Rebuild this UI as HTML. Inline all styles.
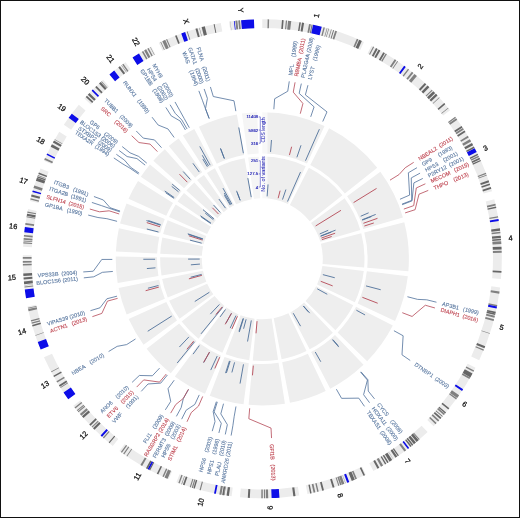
<!DOCTYPE html>
<html><head><meta charset="utf-8"><style>
html,body{margin:0;padding:0;background:#fff;}
svg{display:block;}
text{font-family:"Liberation Sans",sans-serif;}
.cl{font-size:7.4px;fill:#111;stroke:#111;stroke-width:0.25px;dominant-baseline:central;}
.gl text{font-size:5.5px;dominant-baseline:central;white-space:pre;stroke-width:0.12px;}
.at{font-size:4.4px;text-anchor:end;dominant-baseline:central;stroke-width:0.18px;}
.att{font-size:5px;text-anchor:middle;dominant-baseline:central;stroke-width:0.05px;}
</style></head><body>
<svg width="520" height="518" viewBox="0 0 520 518">
<defs><filter id="sf" x="0" y="0" width="520" height="518" filterUnits="userSpaceOnUse"><feGaussianBlur stdDeviation="0.3"/></filter></defs>
<rect x="0" y="0" width="520" height="518" fill="#fff"/>
<g filter="url(#sf)">
<path d="M262.3 112.2A146.6 146.6 0 0 1 324.54 126.07L307 163.46A105.3 105.3 0 0 0 262.3 153.5Z" fill="#eeeeee"/>
<path d="M262.3 156.6A102.2 102.2 0 0 1 305.69 166.27L287.98 204.02A60.5 60.5 0 0 0 262.3 198.3Z" fill="#eeeeee"/>
<path d="M329.13 128.32A146.6 146.6 0 0 1 377.24 167.8L344.86 193.44A105.3 105.3 0 0 0 310.3 165.08Z" fill="#eeeeee"/>
<path d="M308.89 167.84A102.2 102.2 0 0 1 342.43 195.36L309.73 221.25A60.5 60.5 0 0 0 289.88 204.95Z" fill="#eeeeee"/>
<path d="M380.35 171.87A146.6 146.6 0 0 1 402.93 217.38L363.31 229.05A105.3 105.3 0 0 0 347.09 196.36Z" fill="#eeeeee"/>
<path d="M344.59 198.2A102.2 102.2 0 0 1 360.34 229.93L320.34 241.71A60.5 60.5 0 0 0 311.02 222.93Z" fill="#eeeeee"/>
<path d="M404.29 222.32A146.6 146.6 0 0 1 408.37 271.21L367.22 267.71A105.3 105.3 0 0 0 364.29 232.59Z" fill="#eeeeee"/>
<path d="M361.28 233.37A102.2 102.2 0 0 1 364.13 267.45L322.58 263.92A60.5 60.5 0 0 0 320.9 243.74Z" fill="#eeeeee"/>
<path d="M407.85 276.3A146.6 146.6 0 0 1 395.07 320.96L357.66 303.45A105.3 105.3 0 0 0 366.85 271.37Z" fill="#eeeeee"/>
<path d="M363.77 271A102.2 102.2 0 0 1 354.86 302.14L317.09 284.45A60.5 60.5 0 0 0 322.37 266.02Z" fill="#eeeeee"/>
<path d="M392.82 325.56A146.6 146.6 0 0 1 367.16 361.25L337.62 332.39A105.3 105.3 0 0 0 356.05 306.75Z" fill="#eeeeee"/>
<path d="M353.29 305.34A102.2 102.2 0 0 1 335.4 330.22L305.57 301.08A60.5 60.5 0 0 0 316.16 286.35Z" fill="#eeeeee"/>
<path d="M363.52 364.85A146.6 146.6 0 0 1 330.28 388.69L311.13 352.09A105.3 105.3 0 0 0 335 334.97Z" fill="#eeeeee"/>
<path d="M332.86 332.73A102.2 102.2 0 0 1 309.69 349.35L290.35 312.4A60.5 60.5 0 0 0 304.07 302.57Z" fill="#eeeeee"/>
<path d="M325.7 390.98A146.6 146.6 0 0 1 289.96 402.77L282.17 362.21A105.3 105.3 0 0 0 307.84 353.74Z" fill="#eeeeee"/>
<path d="M306.5 350.95A102.2 102.2 0 0 1 281.58 359.16L273.71 318.21A60.5 60.5 0 0 0 288.47 313.35Z" fill="#eeeeee"/>
<path d="M284.92 403.64A146.6 146.6 0 0 1 248.61 404.76L252.47 363.64A105.3 105.3 0 0 0 278.55 362.84Z" fill="#eeeeee"/>
<path d="M278.07 359.78A102.2 102.2 0 0 1 252.76 360.55L256.65 319.04A60.5 60.5 0 0 0 271.63 318.58Z" fill="#eeeeee"/>
<path d="M243.53 404.19A146.6 146.6 0 0 1 209.72 395.65L224.53 357.09A105.3 105.3 0 0 0 248.82 363.23Z" fill="#eeeeee"/>
<path d="M249.21 360.16A102.2 102.2 0 0 1 225.65 354.2L240.6 315.27A60.5 60.5 0 0 0 254.55 318.8Z" fill="#eeeeee"/>
<path d="M204.98 393.73A146.6 146.6 0 0 1 174.84 376.46L199.48 343.31A105.3 105.3 0 0 0 221.13 355.72Z" fill="#eeeeee"/>
<path d="M222.34 352.86A102.2 102.2 0 0 1 201.33 340.82L226.21 307.36A60.5 60.5 0 0 0 238.64 314.48Z" fill="#eeeeee"/>
<path d="M170.79 373.33A146.6 146.6 0 0 1 146.6 348.82L179.19 323.46A105.3 105.3 0 0 0 196.57 341.07Z" fill="#eeeeee"/>
<path d="M198.51 338.64A102.2 102.2 0 0 1 181.64 321.56L214.55 295.95A60.5 60.5 0 0 0 224.54 306.07Z" fill="#eeeeee"/>
<path d="M143.53 344.73A146.6 146.6 0 0 1 128.67 319.08L166.31 302.1A105.3 105.3 0 0 0 176.99 320.52Z" fill="#eeeeee"/>
<path d="M179.5 318.71A102.2 102.2 0 0 1 169.14 300.82L207.15 283.68A60.5 60.5 0 0 0 213.28 294.26Z" fill="#eeeeee"/>
<path d="M126.64 314.38A146.6 146.6 0 0 1 118.62 287.92L159.1 279.72A105.3 105.3 0 0 0 164.86 298.72Z" fill="#eeeeee"/>
<path d="M167.73 297.54A102.2 102.2 0 0 1 162.14 279.1L203.01 270.82A60.5 60.5 0 0 0 206.32 281.74Z" fill="#eeeeee"/>
<path d="M117.69 282.89A146.6 146.6 0 0 1 115.72 256.56L157.01 257.19A105.3 105.3 0 0 0 158.43 276.1Z" fill="#eeeeee"/>
<path d="M161.49 275.6A102.2 102.2 0 0 1 160.11 257.24L201.81 257.88A60.5 60.5 0 0 0 202.62 268.74Z" fill="#eeeeee"/>
<path d="M115.88 251.45A146.6 146.6 0 0 1 118.89 228.37L159.29 236.94A105.3 105.3 0 0 0 157.13 253.52Z" fill="#eeeeee"/>
<path d="M160.23 253.67A102.2 102.2 0 0 1 162.33 237.58L203.12 246.24A60.5 60.5 0 0 0 201.88 255.77Z" fill="#eeeeee"/>
<path d="M120.04 223.38A146.6 146.6 0 0 1 126.53 203.49L164.78 219.07A105.3 105.3 0 0 0 160.12 233.36Z" fill="#eeeeee"/>
<path d="M163.13 234.11A102.2 102.2 0 0 1 167.65 220.24L206.27 235.97A60.5 60.5 0 0 0 203.59 244.18Z" fill="#eeeeee"/>
<path d="M128.55 198.79A146.6 146.6 0 0 1 138.02 181.04L173.03 202.95A105.3 105.3 0 0 0 166.23 215.69Z" fill="#eeeeee"/>
<path d="M169.06 216.96A102.2 102.2 0 0 1 175.66 204.59L211.01 226.71A60.5 60.5 0 0 0 207.1 234.03Z" fill="#eeeeee"/>
<path d="M140.81 176.75A146.6 146.6 0 0 1 149.99 164.58L181.63 191.12A105.3 105.3 0 0 0 175.04 199.87Z" fill="#eeeeee"/>
<path d="M177.61 201.6A102.2 102.2 0 0 1 184 193.12L215.95 219.92A60.5 60.5 0 0 0 212.16 224.94Z" fill="#eeeeee"/>
<path d="M153.34 160.72A146.6 146.6 0 0 1 164.86 149.27L192.31 180.12A105.3 105.3 0 0 0 184.04 188.35Z" fill="#eeeeee"/>
<path d="M186.34 190.42A102.2 102.2 0 0 1 194.37 182.44L222.09 213.6A60.5 60.5 0 0 0 217.34 218.32Z" fill="#eeeeee"/>
<path d="M168.75 145.93A146.6 146.6 0 0 1 178.63 138.43L202.2 172.34A105.3 105.3 0 0 0 195.1 177.73Z" fill="#eeeeee"/>
<path d="M197.08 180.12A102.2 102.2 0 0 1 203.97 174.88L227.77 209.12A60.5 60.5 0 0 0 223.69 212.22Z" fill="#eeeeee"/>
<path d="M182.88 135.58A146.6 146.6 0 0 1 194.31 128.92L213.46 165.51A105.3 105.3 0 0 0 205.25 170.29Z" fill="#eeeeee"/>
<path d="M206.93 172.9A102.2 102.2 0 0 1 214.9 168.26L234.24 205.2A60.5 60.5 0 0 0 229.52 207.95Z" fill="#eeeeee"/>
<path d="M198.88 126.63A146.6 146.6 0 0 1 236.88 114.42L244.04 155.09A105.3 105.3 0 0 0 216.75 163.86Z" fill="#eeeeee"/>
<path d="M218.09 166.66A102.2 102.2 0 0 1 244.58 158.15L251.81 199.22A60.5 60.5 0 0 0 236.13 204.25Z" fill="#eeeeee"/>
<path d="M241.94 113.62A146.6 146.6 0 0 1 257.18 112.29L258.63 153.56A105.3 105.3 0 0 0 247.67 154.52Z" fill="#f5f5f5"/>
<path d="M248.1 157.59A102.2 102.2 0 0 1 258.73 156.66L260.19 198.34A60.5 60.5 0 0 0 253.9 198.89Z" fill="#f5f5f5"/>
<rect x="261.2" y="111" width="6.3" height="90" fill="#fff" fill-opacity="0.6"/>
<path d="M262.3 19.3A239.5 239.5 0 0 1 363.97 41.95L360.24 49.92A230.7 230.7 0 0 0 262.3 28.1Z" fill="#ececec"/>
<path d="M371.48 45.63A239.5 239.5 0 0 1 450.08 110.14L443.18 115.6A230.7 230.7 0 0 0 367.47 53.47Z" fill="#ececec"/>
<path d="M455.15 116.78A239.5 239.5 0 0 1 492.04 191.14L483.6 193.62A230.7 230.7 0 0 0 448.07 122Z" fill="#ececec"/>
<path d="M494.27 199.2A239.5 239.5 0 0 1 500.94 279.07L492.17 278.33A230.7 230.7 0 0 0 485.74 201.39Z" fill="#ececec"/>
<path d="M500.09 287.39A239.5 239.5 0 0 1 479.2 360.35L471.23 356.62A230.7 230.7 0 0 0 491.35 286.34Z" fill="#ececec"/>
<path d="M475.53 367.86A239.5 239.5 0 0 1 433.61 426.18L427.31 420.03A230.7 230.7 0 0 0 467.69 363.85Z" fill="#ececec"/>
<path d="M427.66 432.05A239.5 239.5 0 0 1 373.36 471L369.28 463.2A230.7 230.7 0 0 0 421.58 425.69Z" fill="#ececec"/>
<path d="M365.88 474.74A239.5 239.5 0 0 1 307.48 494L305.82 485.36A230.7 230.7 0 0 0 362.08 466.81Z" fill="#ececec"/>
<path d="M299.25 495.43A239.5 239.5 0 0 1 239.94 497.25L240.76 488.49A230.7 230.7 0 0 0 297.89 486.74Z" fill="#ececec"/>
<path d="M231.63 496.33A239.5 239.5 0 0 1 176.4 482.37L179.56 474.15A230.7 230.7 0 0 0 232.76 487.6Z" fill="#ececec"/>
<path d="M168.65 479.23A239.5 239.5 0 0 1 119.42 451.01L124.67 443.95A230.7 230.7 0 0 0 172.09 471.13Z" fill="#ececec"/>
<path d="M112.8 445.91A239.5 239.5 0 0 1 73.28 405.87L80.22 400.47A230.7 230.7 0 0 0 118.29 439.04Z" fill="#ececec"/>
<path d="M68.26 399.19A239.5 239.5 0 0 1 43.98 357.27L52 353.66A230.7 230.7 0 0 0 75.39 394.03Z" fill="#ececec"/>
<path d="M40.68 349.59A239.5 239.5 0 0 1 27.57 306.38L36.2 304.63A230.7 230.7 0 0 0 48.82 346.26Z" fill="#ececec"/>
<path d="M26.06 298.16A239.5 239.5 0 0 1 22.83 255.14L31.63 255.28A230.7 230.7 0 0 0 34.74 296.71Z" fill="#ececec"/>
<path d="M23.1 246.79A239.5 239.5 0 0 1 28.02 209.08L36.63 210.91A230.7 230.7 0 0 0 31.89 247.23Z" fill="#ececec"/>
<path d="M29.9 200.93A239.5 239.5 0 0 1 40.5 168.44L48.65 171.76A230.7 230.7 0 0 0 38.43 203.06Z" fill="#ececec"/>
<path d="M43.79 160.76A239.5 239.5 0 0 1 59.27 131.76L66.73 136.43A230.7 230.7 0 0 0 51.82 164.36Z" fill="#ececec"/>
<path d="M63.82 124.76A239.5 239.5 0 0 1 78.81 104.87L85.56 110.53A230.7 230.7 0 0 0 71.12 129.68Z" fill="#ececec"/>
<path d="M84.3 98.56A239.5 239.5 0 0 1 103.12 79.85L108.97 86.43A230.7 230.7 0 0 0 90.84 104.45Z" fill="#ececec"/>
<path d="M109.46 74.41A239.5 239.5 0 0 1 125.6 62.14L130.62 69.37A230.7 230.7 0 0 0 115.08 81.18Z" fill="#ececec"/>
<path d="M132.55 57.49A239.5 239.5 0 0 1 151.22 46.62L155.3 54.41A230.7 230.7 0 0 0 137.31 64.89Z" fill="#ececec"/>
<path d="M158.69 42.87A239.5 239.5 0 0 1 220.78 22.93L222.3 31.59A230.7 230.7 0 0 0 162.5 50.8Z" fill="#ececec"/>
<path d="M229.03 21.62A239.5 239.5 0 0 1 253.94 19.45L254.25 28.24A230.7 230.7 0 0 0 230.26 30.34Z" fill="#ececec"/>
<path d="M267.65 19.36A239.5 239.5 0 0 1 269.12 19.4L268.87 28.19A230.7 230.7 0 0 0 267.45 28.16Z" fill="#808080"/>
<path d="M281.99 20.11A239.5 239.5 0 0 1 283.63 20.25L282.85 29.02A230.7 230.7 0 0 0 281.27 28.88Z" fill="#666666"/>
<path d="M285.9 20.47A239.5 239.5 0 0 1 287.11 20.59L286.2 29.34A230.7 230.7 0 0 0 285.03 29.22Z" fill="#808080"/>
<path d="M288.08 20.69A239.5 239.5 0 0 1 291.26 21.06L290.19 29.79A230.7 230.7 0 0 0 287.13 29.44Z" fill="#808080"/>
<path d="M299.39 22.19A239.5 239.5 0 0 1 300.89 22.43L299.47 31.11A230.7 230.7 0 0 0 298.03 30.88Z" fill="#666666"/>
<path d="M302.01 22.62A239.5 239.5 0 0 1 304.09 22.97L302.55 31.64A230.7 230.7 0 0 0 300.55 31.29Z" fill="#666666"/>
<path d="M309.1 23.92A239.5 239.5 0 0 1 310.87 24.28L309.09 32.89A230.7 230.7 0 0 0 307.38 32.55Z" fill="#808080"/>
<path d="M311.57 24.42A239.5 239.5 0 0 1 312.73 24.67L310.87 33.27A230.7 230.7 0 0 0 309.76 33.04Z" fill="#808080"/>
<path d="M313.1 24.75A239.5 239.5 0 0 1 321.75 26.8L319.56 35.32A230.7 230.7 0 0 0 311.23 33.35Z" fill="#0808e8"/>
<path d="M323.54 27.26A239.5 239.5 0 0 1 324.88 27.62L322.59 36.12A230.7 230.7 0 0 0 321.29 35.77Z" fill="#808080"/>
<path d="M326.79 28.15A239.5 239.5 0 0 1 327.4 28.32L325.01 36.79A230.7 230.7 0 0 0 324.42 36.62Z" fill="#808080"/>
<path d="M328.46 28.62A239.5 239.5 0 0 1 329.02 28.78L326.57 37.23A230.7 230.7 0 0 0 326.03 37.08Z" fill="#808080"/>
<path d="M331.04 29.38A239.5 239.5 0 0 1 331.73 29.58L329.18 38.01A230.7 230.7 0 0 0 328.52 37.81Z" fill="#808080"/>
<path d="M333.22 30.04A239.5 239.5 0 0 1 334.02 30.29L331.39 38.69A230.7 230.7 0 0 0 330.61 38.45Z" fill="#666666"/>
<path d="M335.27 30.69A239.5 239.5 0 0 1 336.99 31.24L334.25 39.61A230.7 230.7 0 0 0 332.59 39.07Z" fill="#808080"/>
<path d="M356.85 38.75A239.5 239.5 0 0 1 358.39 39.42L354.86 47.48A230.7 230.7 0 0 0 353.37 46.84Z" fill="#808080"/>
<path d="M359.12 39.74A239.5 239.5 0 0 1 361.85 40.97L358.19 48.97A230.7 230.7 0 0 0 355.57 47.79Z" fill="#666666"/>
<path d="M373.13 46.49A239.5 239.5 0 0 1 374.13 47.01L370.03 54.8A230.7 230.7 0 0 0 369.06 54.29Z" fill="#808080"/>
<path d="M376.03 48.03A239.5 239.5 0 0 1 377.69 48.93L373.45 56.64A230.7 230.7 0 0 0 371.85 55.77Z" fill="#666666"/>
<path d="M378.62 49.44A239.5 239.5 0 0 1 380.38 50.43L376.04 58.09A230.7 230.7 0 0 0 374.34 57.13Z" fill="#666666"/>
<path d="M383.34 52.14A239.5 239.5 0 0 1 384.97 53.1L380.46 60.66A230.7 230.7 0 0 0 378.89 59.73Z" fill="#666666"/>
<path d="M385.69 53.53A239.5 239.5 0 0 1 386.85 54.23L382.27 61.75A230.7 230.7 0 0 0 381.16 61.07Z" fill="#808080"/>
<path d="M394.77 59.27A239.5 239.5 0 0 1 396.35 60.33L391.42 67.62A230.7 230.7 0 0 0 389.9 66.6Z" fill="#808080"/>
<path d="M397.36 61.01A239.5 239.5 0 0 1 398.05 61.49L393.06 68.74A230.7 230.7 0 0 0 392.4 68.28Z" fill="#808080"/>
<path d="M404.16 65.84A239.5 239.5 0 0 1 405.69 66.97L400.42 74.01A230.7 230.7 0 0 0 398.95 72.93Z" fill="#0808e8"/>
<path d="M408 68.72A239.5 239.5 0 0 1 409.11 69.57L403.71 76.52A230.7 230.7 0 0 0 402.65 75.7Z" fill="#808080"/>
<path d="M411.88 71.76A239.5 239.5 0 0 1 413.33 72.92L407.78 79.75A230.7 230.7 0 0 0 406.39 78.63Z" fill="#808080"/>
<path d="M414.5 73.88A239.5 239.5 0 0 1 416.93 75.91L411.25 82.63A230.7 230.7 0 0 0 408.91 80.68Z" fill="#808080"/>
<path d="M424.82 82.88A239.5 239.5 0 0 1 426.33 84.29L420.3 90.7A230.7 230.7 0 0 0 418.85 89.34Z" fill="#666666"/>
<path d="M427.52 85.42A239.5 239.5 0 0 1 429.34 87.17L423.21 93.48A230.7 230.7 0 0 0 421.45 91.79Z" fill="#666666"/>
<path d="M431.83 89.63A239.5 239.5 0 0 1 432.6 90.4L426.35 96.59A230.7 230.7 0 0 0 425.6 95.84Z" fill="#808080"/>
<path d="M433.31 91.13A239.5 239.5 0 0 1 435.19 93.06L428.84 99.15A230.7 230.7 0 0 0 427.03 97.29Z" fill="#666666"/>
<path d="M435.92 93.82A239.5 239.5 0 0 1 437.5 95.51L431.07 101.51A230.7 230.7 0 0 0 429.54 99.88Z" fill="#666666"/>
<path d="M439.19 97.34A239.5 239.5 0 0 1 439.64 97.84L433.13 103.75A230.7 230.7 0 0 0 432.69 103.27Z" fill="#808080"/>
<path d="M444.27 103.08A239.5 239.5 0 0 1 445.28 104.27L438.55 109.95A230.7 230.7 0 0 0 437.58 108.8Z" fill="#666666"/>
<path d="M448.07 107.64A239.5 239.5 0 0 1 448.52 108.2L441.68 113.73A230.7 230.7 0 0 0 441.25 113.2Z" fill="#808080"/>
<path d="M455.15 116.78A239.5 239.5 0 0 1 455.85 117.74L448.74 122.92A230.7 230.7 0 0 0 448.07 122Z" fill="#808080"/>
<path d="M456.15 118.14A239.5 239.5 0 0 1 457.3 119.75L450.14 124.86A230.7 230.7 0 0 0 449.02 123.31Z" fill="#808080"/>
<path d="M461.54 125.89A239.5 239.5 0 0 1 462.58 127.47L455.22 132.3A230.7 230.7 0 0 0 454.22 130.77Z" fill="#666666"/>
<path d="M462.86 127.89A239.5 239.5 0 0 1 463.87 129.45L456.46 134.2A230.7 230.7 0 0 0 455.49 132.7Z" fill="#808080"/>
<path d="M464.52 130.48A239.5 239.5 0 0 1 465.49 132.01L458.02 136.67A230.7 230.7 0 0 0 457.09 135.19Z" fill="#666666"/>
<path d="M465.58 132.16A239.5 239.5 0 0 1 465.6 132.19L458.13 136.84A230.7 230.7 0 0 0 458.11 136.81Z" fill="#808080"/>
<path d="M467.84 135.86A239.5 239.5 0 0 1 468.74 137.38L461.16 141.84A230.7 230.7 0 0 0 460.29 140.38Z" fill="#808080"/>
<path d="M469.82 139.24A239.5 239.5 0 0 1 471.09 141.47L463.42 145.78A230.7 230.7 0 0 0 462.2 143.63Z" fill="#808080"/>
<path d="M471.99 143.09A239.5 239.5 0 0 1 473.12 145.16L465.38 149.34A230.7 230.7 0 0 0 464.29 147.34Z" fill="#666666"/>
<path d="M473.86 146.54A239.5 239.5 0 0 1 474.59 147.92L466.79 151.99A230.7 230.7 0 0 0 466.09 150.66Z" fill="#666666"/>
<path d="M474.72 148.18A239.5 239.5 0 0 1 476.71 152.08L468.83 156A230.7 230.7 0 0 0 466.92 152.24Z" fill="#0808e8"/>
<path d="M477.55 153.78A239.5 239.5 0 0 1 478.17 155.07L470.24 158.88A230.7 230.7 0 0 0 469.64 157.64Z" fill="#666666"/>
<path d="M478.48 155.72A239.5 239.5 0 0 1 479.09 157.01L471.13 160.75A230.7 230.7 0 0 0 470.54 159.51Z" fill="#808080"/>
<path d="M479.49 157.85A239.5 239.5 0 0 1 480.16 159.31L472.15 162.96A230.7 230.7 0 0 0 471.51 161.56Z" fill="#666666"/>
<path d="M480.45 159.96A239.5 239.5 0 0 1 480.95 161.07L472.92 164.66A230.7 230.7 0 0 0 472.44 163.59Z" fill="#666666"/>
<path d="M485.83 172.82A239.5 239.5 0 0 1 486.27 173.96L478.04 177.08A230.7 230.7 0 0 0 477.62 175.98Z" fill="#808080"/>
<path d="M486.57 174.75A239.5 239.5 0 0 1 486.86 175.54L478.61 178.6A230.7 230.7 0 0 0 478.33 177.84Z" fill="#808080"/>
<path d="M488.56 180.26A239.5 239.5 0 0 1 489.21 182.17L480.87 184.99A230.7 230.7 0 0 0 480.24 183.14Z" fill="#666666"/>
<path d="M489.65 183.49A239.5 239.5 0 0 1 490.14 184.97L481.77 187.68A230.7 230.7 0 0 0 481.3 186.26Z" fill="#666666"/>
<path d="M490.8 187.06A239.5 239.5 0 0 1 491.35 188.83L482.93 191.4A230.7 230.7 0 0 0 482.41 189.69Z" fill="#666666"/>
<path d="M495.4 203.82A239.5 239.5 0 0 1 495.78 205.42L487.2 207.38A230.7 230.7 0 0 0 486.84 205.84Z" fill="#808080"/>
<path d="M496.02 206.49A239.5 239.5 0 0 1 496.33 207.93L487.74 209.8A230.7 230.7 0 0 0 487.43 208.41Z" fill="#666666"/>
<path d="M497.97 216.15A239.5 239.5 0 0 1 498.22 217.56L489.55 219.08A230.7 230.7 0 0 0 489.31 217.72Z" fill="#808080"/>
<path d="M498.48 219.06A239.5 239.5 0 0 1 498.79 220.93L490.1 222.32A230.7 230.7 0 0 0 489.8 220.52Z" fill="#0808e8"/>
<path d="M499.86 228.35A239.5 239.5 0 0 1 500.15 230.77L491.41 231.8A230.7 230.7 0 0 0 491.13 229.47Z" fill="#666666"/>
<path d="M500.28 231.86A239.5 239.5 0 0 1 500.44 233.33L491.69 234.26A230.7 230.7 0 0 0 491.54 232.85Z" fill="#808080"/>
<path d="M500.68 235.67A239.5 239.5 0 0 1 500.9 238.07L492.13 238.83A230.7 230.7 0 0 0 491.92 236.52Z" fill="#666666"/>
<path d="M500.95 238.65A239.5 239.5 0 0 1 501.08 240.21L492.3 240.89A230.7 230.7 0 0 0 492.18 239.39Z" fill="#666666"/>
<path d="M501.15 241.17A239.5 239.5 0 0 1 501.34 243.95L492.56 244.49A230.7 230.7 0 0 0 492.37 241.82Z" fill="#808080"/>
<path d="M501.49 246.64A239.5 239.5 0 0 1 501.62 249.46L492.82 249.8A230.7 230.7 0 0 0 492.7 247.09Z" fill="#666666"/>
<path d="M501.66 250.72A239.5 239.5 0 0 1 501.73 252.83L492.93 253.05A230.7 230.7 0 0 0 492.87 251.02Z" fill="#808080"/>
<path d="M501.49 270.98A239.5 239.5 0 0 1 501.39 272.83L492.6 272.31A230.7 230.7 0 0 0 492.7 270.53Z" fill="#666666"/>
<path d="M499.56 291.48A239.5 239.5 0 0 1 499.25 293.65L490.54 292.37A230.7 230.7 0 0 0 490.84 290.28Z" fill="#808080"/>
<path d="M497.29 305.07A239.5 239.5 0 0 1 496.99 306.56L488.37 304.8A230.7 230.7 0 0 0 488.65 303.37Z" fill="#808080"/>
<path d="M496.99 306.56A239.5 239.5 0 0 1 496.6 308.45L487.99 306.63A230.7 230.7 0 0 0 488.37 304.8Z" fill="#0808e8"/>
<path d="M495.86 311.83A239.5 239.5 0 0 1 495.48 313.47L486.91 311.46A230.7 230.7 0 0 0 487.27 309.88Z" fill="#666666"/>
<path d="M495.45 313.59A239.5 239.5 0 0 1 495.11 315.03L486.55 312.96A230.7 230.7 0 0 0 486.88 311.58Z" fill="#666666"/>
<path d="M494.94 315.72A239.5 239.5 0 0 1 494.44 317.73L485.91 315.56A230.7 230.7 0 0 0 486.39 313.63Z" fill="#808080"/>
<path d="M494.06 319.19A239.5 239.5 0 0 1 493.57 321.03L485.08 318.74A230.7 230.7 0 0 0 485.54 316.97Z" fill="#808080"/>
<path d="M489.96 333.18A239.5 239.5 0 0 1 489.75 333.82L481.39 331.06A230.7 230.7 0 0 0 481.59 330.45Z" fill="#808080"/>
<path d="M485.26 346.26A239.5 239.5 0 0 1 484.43 348.34L476.27 345.05A230.7 230.7 0 0 0 477.07 343.05Z" fill="#666666"/>
<path d="M483.97 349.47A239.5 239.5 0 0 1 483.49 350.64L475.37 347.26A230.7 230.7 0 0 0 475.83 346.14Z" fill="#808080"/>
<path d="M474.15 370.52A239.5 239.5 0 0 1 473.46 371.82L465.7 367.67A230.7 230.7 0 0 0 466.36 366.41Z" fill="#808080"/>
<path d="M472.53 373.52A239.5 239.5 0 0 1 470.38 377.39L462.73 373.03A230.7 230.7 0 0 0 464.81 369.31Z" fill="#666666"/>
<path d="M470.25 377.61A239.5 239.5 0 0 1 469.39 379.1L461.78 374.68A230.7 230.7 0 0 0 462.61 373.24Z" fill="#808080"/>
<path d="M463.15 389.26A239.5 239.5 0 0 1 462.09 390.88L454.75 386.03A230.7 230.7 0 0 0 455.77 384.47Z" fill="#0808e8"/>
<path d="M459.11 395.28A239.5 239.5 0 0 1 457.17 398.03L450.01 392.92A230.7 230.7 0 0 0 451.88 390.26Z" fill="#808080"/>
<path d="M456.93 398.37A239.5 239.5 0 0 1 456.16 399.43L449.04 394.27A230.7 230.7 0 0 0 449.78 393.25Z" fill="#808080"/>
<path d="M449.37 408.35A239.5 239.5 0 0 1 448.39 409.56L441.56 404.02A230.7 230.7 0 0 0 442.5 402.85Z" fill="#666666"/>
<path d="M446.04 412.42A239.5 239.5 0 0 1 445.17 413.46L438.45 407.77A230.7 230.7 0 0 0 439.29 406.78Z" fill="#666666"/>
<path d="M444.93 413.74A239.5 239.5 0 0 1 443.83 415.03L437.16 409.29A230.7 230.7 0 0 0 438.22 408.05Z" fill="#808080"/>
<path d="M442.78 416.24A239.5 239.5 0 0 1 442.23 416.87L435.62 411.06A230.7 230.7 0 0 0 436.15 410.45Z" fill="#666666"/>
<path d="M441.42 417.79A239.5 239.5 0 0 1 440.24 419.1L433.7 413.21A230.7 230.7 0 0 0 434.84 411.94Z" fill="#666666"/>
<path d="M439.28 420.17A239.5 239.5 0 0 1 438.11 421.44L431.65 415.46A230.7 230.7 0 0 0 432.78 414.24Z" fill="#808080"/>
<path d="M436.59 423.07A239.5 239.5 0 0 1 435.57 424.14L429.2 418.06A230.7 230.7 0 0 0 430.18 417.03Z" fill="#808080"/>
<path d="M419.73 439.29A239.5 239.5 0 0 1 418.93 439.98L413.18 433.33A230.7 230.7 0 0 0 413.94 432.66Z" fill="#808080"/>
<path d="M418.68 440.2A239.5 239.5 0 0 1 416.69 441.9L411.01 435.17A230.7 230.7 0 0 0 412.93 433.54Z" fill="#666666"/>
<path d="M415.98 442.49A239.5 239.5 0 0 1 414 444.13L408.42 437.32A230.7 230.7 0 0 0 410.33 435.74Z" fill="#666666"/>
<path d="M413.31 444.69A239.5 239.5 0 0 1 412.13 445.64L406.63 438.78A230.7 230.7 0 0 0 407.76 437.86Z" fill="#666666"/>
<path d="M411.64 446.04A239.5 239.5 0 0 1 410.48 446.95L405.04 440.04A230.7 230.7 0 0 0 406.15 439.16Z" fill="#666666"/>
<path d="M409.16 447.99A239.5 239.5 0 0 1 407.92 448.94L402.57 441.96A230.7 230.7 0 0 0 403.76 441.04Z" fill="#0808e8"/>
<path d="M406.14 450.29A239.5 239.5 0 0 1 404.38 451.6L399.16 444.52A230.7 230.7 0 0 0 400.86 443.26Z" fill="#808080"/>
<path d="M398.9 455.52A239.5 239.5 0 0 1 397.9 456.22L392.91 448.96A230.7 230.7 0 0 0 393.88 448.29Z" fill="#666666"/>
<path d="M397.31 456.62A239.5 239.5 0 0 1 395.49 457.85L390.6 450.53A230.7 230.7 0 0 0 392.35 449.35Z" fill="#666666"/>
<path d="M393.45 459.2A239.5 239.5 0 0 1 393.21 459.36L388.4 451.99A230.7 230.7 0 0 0 388.63 451.83Z" fill="#808080"/>
<path d="M392.18 460.02A239.5 239.5 0 0 1 389.62 461.65L384.94 454.2A230.7 230.7 0 0 0 387.41 452.63Z" fill="#666666"/>
<path d="M388.62 462.28A239.5 239.5 0 0 1 387.3 463.09L382.7 455.59A230.7 230.7 0 0 0 383.98 454.8Z" fill="#666666"/>
<path d="M386.32 463.69A239.5 239.5 0 0 1 385.13 464.4L380.62 456.85A230.7 230.7 0 0 0 381.77 456.16Z" fill="#666666"/>
<path d="M383.14 465.58A239.5 239.5 0 0 1 381.09 466.76L376.73 459.12A230.7 230.7 0 0 0 378.7 457.98Z" fill="#808080"/>
<path d="M379.3 467.78A239.5 239.5 0 0 1 377.53 468.76L373.3 461.04A230.7 230.7 0 0 0 375 460.1Z" fill="#666666"/>
<path d="M365.05 475.14A239.5 239.5 0 0 1 363.52 475.86L359.8 467.88A230.7 230.7 0 0 0 361.27 467.19Z" fill="#666666"/>
<path d="M356.95 478.8A239.5 239.5 0 0 1 355.36 479.48L351.94 471.37A230.7 230.7 0 0 0 353.47 470.72Z" fill="#808080"/>
<path d="M354.82 479.71A239.5 239.5 0 0 1 351.81 480.94L348.53 472.78A230.7 230.7 0 0 0 351.42 471.59Z" fill="#666666"/>
<path d="M349.23 481.97A239.5 239.5 0 0 1 347.26 482.72L344.14 474.5A230.7 230.7 0 0 0 346.04 473.77Z" fill="#0808e8"/>
<path d="M345.65 483.33A239.5 239.5 0 0 1 345.49 483.39L342.43 475.14A230.7 230.7 0 0 0 342.58 475.08Z" fill="#666666"/>
<path d="M344.34 483.81A239.5 239.5 0 0 1 341.92 484.68L339 476.38A230.7 230.7 0 0 0 341.33 475.54Z" fill="#808080"/>
<path d="M341.68 484.76A239.5 239.5 0 0 1 340.17 485.29L337.31 476.96A230.7 230.7 0 0 0 338.77 476.46Z" fill="#808080"/>
<path d="M339.37 485.56A239.5 239.5 0 0 1 338.38 485.9L335.58 477.55A230.7 230.7 0 0 0 336.54 477.23Z" fill="#808080"/>
<path d="M334.53 487.15A239.5 239.5 0 0 1 332.72 487.71L330.13 479.3A230.7 230.7 0 0 0 331.88 478.76Z" fill="#666666"/>
<path d="M323.97 490.22A239.5 239.5 0 0 1 322.22 490.68L320.02 482.16A230.7 230.7 0 0 0 321.71 481.72Z" fill="#666666"/>
<path d="M318.67 491.57A239.5 239.5 0 0 1 317.32 491.9L315.29 483.33A230.7 230.7 0 0 0 316.6 483.02Z" fill="#808080"/>
<path d="M315.34 492.35A239.5 239.5 0 0 1 313.62 492.74L311.73 484.14A230.7 230.7 0 0 0 313.4 483.77Z" fill="#808080"/>
<path d="M311.6 493.17A239.5 239.5 0 0 1 310.16 493.47L308.4 484.85A230.7 230.7 0 0 0 309.79 484.56Z" fill="#666666"/>
<path d="M295.5 495.99A239.5 239.5 0 0 1 293.33 496.28L292.19 487.56A230.7 230.7 0 0 0 294.28 487.27Z" fill="#666666"/>
<path d="M279.46 497.68A239.5 239.5 0 0 1 271.63 498.12L271.29 489.32A230.7 230.7 0 0 0 278.82 488.91Z" fill="#0808e8"/>
<path d="M268.22 498.23A239.5 239.5 0 0 1 266.03 498.27L265.89 489.47A230.7 230.7 0 0 0 268 489.43Z" fill="#808080"/>
<path d="M265.23 498.28A239.5 239.5 0 0 1 263.97 498.29L263.91 489.49A230.7 230.7 0 0 0 265.12 489.48Z" fill="#808080"/>
<path d="M262.79 498.3A239.5 239.5 0 0 1 261.31 498.3L261.35 489.5A230.7 230.7 0 0 0 262.77 489.5Z" fill="#808080"/>
<path d="M249.82 497.97A239.5 239.5 0 0 1 247.8 497.86L248.33 489.08A230.7 230.7 0 0 0 250.28 489.19Z" fill="#666666"/>
<path d="M228.87 495.96A239.5 239.5 0 0 1 226.54 495.62L227.85 486.91A230.7 230.7 0 0 0 230.1 487.24Z" fill="#666666"/>
<path d="M224.42 495.28A239.5 239.5 0 0 1 223.88 495.2L225.29 486.51A230.7 230.7 0 0 0 225.81 486.6Z" fill="#666666"/>
<path d="M223.83 495.19A239.5 239.5 0 0 1 222.21 494.92L223.69 486.25A230.7 230.7 0 0 0 225.25 486.51Z" fill="#666666"/>
<path d="M221.38 494.78A239.5 239.5 0 0 1 219.31 494.41L220.89 485.75A230.7 230.7 0 0 0 222.89 486.11Z" fill="#808080"/>
<path d="M215.83 493.75A239.5 239.5 0 0 1 214.06 493.39L215.83 484.77A230.7 230.7 0 0 0 217.54 485.12Z" fill="#0808e8"/>
<path d="M200.69 490.24A239.5 239.5 0 0 1 199.55 489.93L201.86 481.44A230.7 230.7 0 0 0 202.95 481.74Z" fill="#808080"/>
<path d="M194.77 488.58A239.5 239.5 0 0 1 193.39 488.17L195.93 479.75A230.7 230.7 0 0 0 197.25 480.14Z" fill="#666666"/>
<path d="M192.91 488.03A239.5 239.5 0 0 1 191.74 487.67L194.33 479.26A230.7 230.7 0 0 0 195.46 479.61Z" fill="#808080"/>
<path d="M190.82 487.38A239.5 239.5 0 0 1 189.77 487.05L192.44 478.67A230.7 230.7 0 0 0 193.44 478.98Z" fill="#808080"/>
<path d="M184.57 485.34A239.5 239.5 0 0 1 182.9 484.76L185.82 476.45A230.7 230.7 0 0 0 187.43 477.01Z" fill="#666666"/>
<path d="M181.87 484.39A239.5 239.5 0 0 1 181.31 484.19L184.29 475.91A230.7 230.7 0 0 0 184.82 476.1Z" fill="#808080"/>
<path d="M179.57 483.56A239.5 239.5 0 0 1 178.35 483.1L181.43 474.86A230.7 230.7 0 0 0 182.61 475.3Z" fill="#808080"/>
<path d="M167.57 478.77A239.5 239.5 0 0 1 164.52 477.43L168.11 469.4A230.7 230.7 0 0 0 171.05 470.69Z" fill="#808080"/>
<path d="M163.75 477.09A239.5 239.5 0 0 1 162.41 476.47L166.08 468.48A230.7 230.7 0 0 0 167.37 469.06Z" fill="#808080"/>
<path d="M158.22 474.5A239.5 239.5 0 0 1 156.78 473.8L160.65 465.9A230.7 230.7 0 0 0 162.04 466.58Z" fill="#666666"/>
<path d="M150.1 470.39A239.5 239.5 0 0 1 149.06 469.84L153.22 462.08A230.7 230.7 0 0 0 154.22 462.62Z" fill="#666666"/>
<path d="M149.06 469.84A239.5 239.5 0 0 1 147.54 469.01L151.76 461.29A230.7 230.7 0 0 0 153.22 462.08Z" fill="#0808e8"/>
<path d="M147.54 469.01A239.5 239.5 0 0 1 145.99 468.16L150.26 460.47A230.7 230.7 0 0 0 151.76 461.29Z" fill="#666666"/>
<path d="M142.14 465.98A239.5 239.5 0 0 1 140.4 464.95L144.88 457.38A230.7 230.7 0 0 0 146.56 458.36Z" fill="#808080"/>
<path d="M127.14 456.52A239.5 239.5 0 0 1 126.45 456.04L131.44 448.79A230.7 230.7 0 0 0 132.11 449.25Z" fill="#808080"/>
<path d="M124.13 454.43A239.5 239.5 0 0 1 123.21 453.77L128.32 446.61A230.7 230.7 0 0 0 129.21 447.24Z" fill="#808080"/>
<path d="M121.87 452.81A239.5 239.5 0 0 1 120.85 452.07L126.05 444.97A230.7 230.7 0 0 0 127.03 445.68Z" fill="#808080"/>
<path d="M109.5 443.23A239.5 239.5 0 0 1 108.63 442.5L114.27 435.75A230.7 230.7 0 0 0 115.12 436.45Z" fill="#666666"/>
<path d="M103.83 438.38A239.5 239.5 0 0 1 102.92 437.57L108.78 431A230.7 230.7 0 0 0 109.66 431.78Z" fill="#808080"/>
<path d="M102.1 436.84A239.5 239.5 0 0 1 100.58 435.45L106.52 428.96A230.7 230.7 0 0 0 107.99 430.3Z" fill="#0808e8"/>
<path d="M94.49 429.68A239.5 239.5 0 0 1 93 428.2L99.22 421.98A230.7 230.7 0 0 0 100.66 423.4Z" fill="#666666"/>
<path d="M92.4 427.6A239.5 239.5 0 0 1 91.63 426.82L97.9 420.65A230.7 230.7 0 0 0 98.64 421.4Z" fill="#808080"/>
<path d="M90.51 425.68A239.5 239.5 0 0 1 89.28 424.41L95.64 418.32A230.7 230.7 0 0 0 96.82 419.55Z" fill="#666666"/>
<path d="M83.42 418.06A239.5 239.5 0 0 1 81.92 416.35L88.55 410.57A230.7 230.7 0 0 0 90 412.21Z" fill="#666666"/>
<path d="M81.31 415.66A239.5 239.5 0 0 1 79.88 413.99L86.59 408.29A230.7 230.7 0 0 0 87.96 409.89Z" fill="#808080"/>
<path d="M78.45 412.29A239.5 239.5 0 0 1 77.77 411.48L84.55 405.87A230.7 230.7 0 0 0 85.2 406.65Z" fill="#808080"/>
<path d="M77.42 411.05A239.5 239.5 0 0 1 76.73 410.21L83.55 404.64A230.7 230.7 0 0 0 84.22 405.46Z" fill="#808080"/>
<path d="M75.35 408.5A239.5 239.5 0 0 1 74.46 407.38L81.36 401.92A230.7 230.7 0 0 0 82.22 403Z" fill="#808080"/>
<path d="M68.26 399.19A239.5 239.5 0 0 1 63.56 392.45L70.86 387.54A230.7 230.7 0 0 0 75.39 394.03Z" fill="#0808e8"/>
<path d="M60.62 387.98A239.5 239.5 0 0 1 60.21 387.34L67.64 382.61A230.7 230.7 0 0 0 68.03 383.23Z" fill="#808080"/>
<path d="M59.88 386.8A239.5 239.5 0 0 1 58.85 385.16L66.32 380.52A230.7 230.7 0 0 0 67.31 382.1Z" fill="#666666"/>
<path d="M57.26 382.57A239.5 239.5 0 0 1 56.48 381.27L64.05 376.77A230.7 230.7 0 0 0 64.8 378.03Z" fill="#808080"/>
<path d="M54.07 377.12A239.5 239.5 0 0 1 53.37 375.87L61.04 371.57A230.7 230.7 0 0 0 61.72 372.77Z" fill="#666666"/>
<path d="M51.4 372.29A239.5 239.5 0 0 1 51.04 371.62L58.8 367.48A230.7 230.7 0 0 0 59.15 368.12Z" fill="#808080"/>
<path d="M40.68 349.59A239.5 239.5 0 0 1 37.75 342.1L46 339.04A230.7 230.7 0 0 0 48.82 346.26Z" fill="#0808e8"/>
<path d="M35.47 335.67A239.5 239.5 0 0 1 35.29 335.15L43.64 332.34A230.7 230.7 0 0 0 43.8 332.84Z" fill="#808080"/>
<path d="M32.57 326.51A239.5 239.5 0 0 1 32.1 324.89L40.56 322.46A230.7 230.7 0 0 0 41.01 324.02Z" fill="#666666"/>
<path d="M31.79 323.8A239.5 239.5 0 0 1 31.44 322.54L39.92 320.2A230.7 230.7 0 0 0 40.26 321.41Z" fill="#808080"/>
<path d="M31.18 321.61A239.5 239.5 0 0 1 30.79 320.14L39.29 317.89A230.7 230.7 0 0 0 39.67 319.3Z" fill="#808080"/>
<path d="M28.59 311.14A239.5 239.5 0 0 1 28.14 309.08L36.74 307.23A230.7 230.7 0 0 0 37.18 309.21Z" fill="#808080"/>
<path d="M28.01 308.46A239.5 239.5 0 0 1 27.86 307.76L36.47 305.96A230.7 230.7 0 0 0 36.61 306.64Z" fill="#808080"/>
<path d="M26.06 298.16A239.5 239.5 0 0 1 24.78 289.53L33.51 288.4A230.7 230.7 0 0 0 34.74 296.71Z" fill="#0808e8"/>
<path d="M24.52 287.44A239.5 239.5 0 0 1 24.4 286.44L33.14 285.42A230.7 230.7 0 0 0 33.26 286.39Z" fill="#808080"/>
<path d="M24.29 285.52A239.5 239.5 0 0 1 24.25 285.14L33 284.17A230.7 230.7 0 0 0 33.04 284.54Z" fill="#808080"/>
<path d="M24.14 284.13A239.5 239.5 0 0 1 23.87 281.41L32.63 280.58A230.7 230.7 0 0 0 32.89 283.2Z" fill="#666666"/>
<path d="M23.69 279.44A239.5 239.5 0 0 1 23.53 277.46L32.3 276.78A230.7 230.7 0 0 0 32.46 278.68Z" fill="#666666"/>
<path d="M23.42 276.04A239.5 239.5 0 0 1 23.25 273.47L32.03 272.93A230.7 230.7 0 0 0 32.2 275.4Z" fill="#666666"/>
<path d="M22.89 265.48A239.5 239.5 0 0 1 22.86 264.04L31.66 263.85A230.7 230.7 0 0 0 31.69 265.23Z" fill="#808080"/>
<path d="M22.83 262.65A239.5 239.5 0 0 1 22.81 261.05L31.61 260.97A230.7 230.7 0 0 0 31.63 262.51Z" fill="#808080"/>
<path d="M22.8 258.82A239.5 239.5 0 0 1 22.81 257.05L31.61 257.12A230.7 230.7 0 0 0 31.6 258.82Z" fill="#808080"/>
<path d="M23.29 243.46A239.5 239.5 0 0 1 23.36 242.37L32.14 242.97A230.7 230.7 0 0 0 32.07 244.03Z" fill="#808080"/>
<path d="M23.43 241.49A239.5 239.5 0 0 1 23.5 240.56L32.27 241.23A230.7 230.7 0 0 0 32.2 242.12Z" fill="#808080"/>
<path d="M23.56 239.72A239.5 239.5 0 0 1 23.72 237.88L32.48 238.65A230.7 230.7 0 0 0 32.33 240.43Z" fill="#808080"/>
<path d="M23.83 236.62A239.5 239.5 0 0 1 23.99 234.98L32.74 235.86A230.7 230.7 0 0 0 32.59 237.43Z" fill="#808080"/>
<path d="M24.28 232.26A239.5 239.5 0 0 1 24.91 227.07L33.63 228.24A230.7 230.7 0 0 0 33.02 233.24Z" fill="#0808e8"/>
<path d="M25.23 224.74A239.5 239.5 0 0 1 25.49 223.03L34.19 224.34A230.7 230.7 0 0 0 33.95 225.99Z" fill="#808080"/>
<path d="M26.45 217.17A239.5 239.5 0 0 1 26.6 216.3L35.26 217.86A230.7 230.7 0 0 0 35.11 218.7Z" fill="#808080"/>
<path d="M26.69 215.8A239.5 239.5 0 0 1 27.09 213.69L35.73 215.34A230.7 230.7 0 0 0 35.35 217.38Z" fill="#666666"/>
<path d="M27.29 212.65A239.5 239.5 0 0 1 27.49 211.62L36.12 213.35A230.7 230.7 0 0 0 35.92 214.35Z" fill="#808080"/>
<path d="M30.24 199.59A239.5 239.5 0 0 1 30.57 198.28L39.09 200.5A230.7 230.7 0 0 0 38.76 201.76Z" fill="#808080"/>
<path d="M31.03 196.57A239.5 239.5 0 0 1 31.62 194.42L40.09 196.78A230.7 230.7 0 0 0 39.52 198.86Z" fill="#666666"/>
<path d="M32.33 191.91A239.5 239.5 0 0 1 32.76 190.45L41.19 192.96A230.7 230.7 0 0 0 40.78 194.36Z" fill="#0808e8"/>
<path d="M33.49 188.03A239.5 239.5 0 0 1 34.29 185.5L42.67 188.19A230.7 230.7 0 0 0 41.9 190.63Z" fill="#808080"/>
<path d="M35.9 180.66A239.5 239.5 0 0 1 36.94 177.72L45.22 180.7A230.7 230.7 0 0 0 44.22 183.54Z" fill="#666666"/>
<path d="M37.04 177.45A239.5 239.5 0 0 1 37.44 176.34L45.71 179.37A230.7 230.7 0 0 0 45.32 180.44Z" fill="#666666"/>
<path d="M37.66 175.75A239.5 239.5 0 0 1 37.9 175.11L46.14 178.19A230.7 230.7 0 0 0 45.92 178.8Z" fill="#808080"/>
<path d="M38.33 173.97A239.5 239.5 0 0 1 38.9 172.47L47.11 175.65A230.7 230.7 0 0 0 46.56 177.09Z" fill="#666666"/>
<path d="M44.29 159.64A239.5 239.5 0 0 1 45.03 158.04L53.01 161.74A230.7 230.7 0 0 0 52.3 163.29Z" fill="#808080"/>
<path d="M46.52 154.87A239.5 239.5 0 0 1 47.19 153.51L55.09 157.38A230.7 230.7 0 0 0 54.45 158.69Z" fill="#0808e8"/>
<path d="M50.67 146.68A239.5 239.5 0 0 1 51.92 144.34L59.65 148.55A230.7 230.7 0 0 0 58.44 150.8Z" fill="#666666"/>
<path d="M52.87 142.6A239.5 239.5 0 0 1 54.03 140.55L61.68 144.89A230.7 230.7 0 0 0 60.57 146.87Z" fill="#666666"/>
<path d="M54.53 139.67A239.5 239.5 0 0 1 54.82 139.16L62.45 143.55A230.7 230.7 0 0 0 62.16 144.05Z" fill="#808080"/>
<path d="M68.66 117.86A239.5 239.5 0 0 1 71.78 113.67L78.78 119A230.7 230.7 0 0 0 75.78 123.04Z" fill="#0808e8"/>
<path d="M85.74 96.97A239.5 239.5 0 0 1 86.91 95.7L93.36 101.7A230.7 230.7 0 0 0 92.23 102.92Z" fill="#666666"/>
<path d="M87.75 94.81A239.5 239.5 0 0 1 89.43 93.04L95.78 99.13A230.7 230.7 0 0 0 94.16 100.84Z" fill="#666666"/>
<path d="M91.69 90.71A239.5 239.5 0 0 1 92.82 89.58L99.05 95.79A230.7 230.7 0 0 0 97.96 96.89Z" fill="#0808e8"/>
<path d="M95.28 87.15A239.5 239.5 0 0 1 96.52 85.95L102.61 92.3A230.7 230.7 0 0 0 101.41 93.46Z" fill="#666666"/>
<path d="M99 83.61A239.5 239.5 0 0 1 100.61 82.12L106.55 88.61A230.7 230.7 0 0 0 105 90.04Z" fill="#666666"/>
<path d="M101.08 81.69A239.5 239.5 0 0 1 101.67 81.16L107.57 87.68A230.7 230.7 0 0 0 107 88.2Z" fill="#808080"/>
<path d="M109.46 74.41A239.5 239.5 0 0 1 114.15 70.62L119.59 77.54A230.7 230.7 0 0 0 115.08 81.18Z" fill="#0808e8"/>
<path d="M118.32 67.41A239.5 239.5 0 0 1 119.91 66.23L125.14 73.3A230.7 230.7 0 0 0 123.61 74.44Z" fill="#666666"/>
<path d="M121.2 65.28A239.5 239.5 0 0 1 121.57 65.01L126.74 72.13A230.7 230.7 0 0 0 126.38 72.39Z" fill="#808080"/>
<path d="M122.22 64.54A239.5 239.5 0 0 1 123.35 63.73L128.46 70.89A230.7 230.7 0 0 0 127.37 71.67Z" fill="#808080"/>
<path d="M132.55 57.49A239.5 239.5 0 0 1 138.95 53.51L143.48 61.05A230.7 230.7 0 0 0 137.31 64.89Z" fill="#0808e8"/>
<path d="M141.85 51.79A239.5 239.5 0 0 1 143.2 51.01L147.58 58.65A230.7 230.7 0 0 0 146.28 59.4Z" fill="#808080"/>
<path d="M144.15 50.47A239.5 239.5 0 0 1 146.14 49.36L150.4 57.05A230.7 230.7 0 0 0 148.49 58.13Z" fill="#808080"/>
<path d="M147.39 48.67A239.5 239.5 0 0 1 148.58 48.02L152.75 55.77A230.7 230.7 0 0 0 151.61 56.39Z" fill="#808080"/>
<path d="M150.14 47.19A239.5 239.5 0 0 1 150.51 46.99L154.62 54.77A230.7 230.7 0 0 0 154.26 54.96Z" fill="#808080"/>
<path d="M160.33 42.09A239.5 239.5 0 0 1 160.98 41.79L164.7 49.76A230.7 230.7 0 0 0 164.07 50.06Z" fill="#808080"/>
<path d="M162.31 41.17A239.5 239.5 0 0 1 165.23 39.85L168.8 47.9A230.7 230.7 0 0 0 165.99 49.17Z" fill="#808080"/>
<path d="M166.08 39.48A239.5 239.5 0 0 1 167.08 39.04L170.58 47.12A230.7 230.7 0 0 0 169.62 47.54Z" fill="#808080"/>
<path d="M175.07 35.75A239.5 239.5 0 0 1 176.64 35.14L179.79 43.36A230.7 230.7 0 0 0 178.27 43.95Z" fill="#666666"/>
<path d="M181.26 33.43A239.5 239.5 0 0 1 185.12 32.08L187.95 40.41A230.7 230.7 0 0 0 184.24 41.71Z" fill="#0808e8"/>
<path d="M186.72 31.54A239.5 239.5 0 0 1 187.56 31.26L190.3 39.62A230.7 230.7 0 0 0 189.49 39.89Z" fill="#808080"/>
<path d="M195.44 28.82A239.5 239.5 0 0 1 197.39 28.26L199.77 36.74A230.7 230.7 0 0 0 197.9 37.27Z" fill="#666666"/>
<path d="M199.13 27.78A239.5 239.5 0 0 1 199.58 27.66L201.88 36.15A230.7 230.7 0 0 0 201.45 36.27Z" fill="#808080"/>
<path d="M201.62 27.12A239.5 239.5 0 0 1 204.8 26.3L206.91 34.85A230.7 230.7 0 0 0 203.85 35.63Z" fill="#666666"/>
<path d="M213.63 24.3A239.5 239.5 0 0 1 214.58 24.1L216.33 32.73A230.7 230.7 0 0 0 215.42 32.91Z" fill="#666666"/>
<path d="M230.08 21.48A239.5 239.5 0 0 1 230.29 21.45L231.46 30.17A230.7 230.7 0 0 0 231.26 30.2Z" fill="#808080"/>
<path d="M233.88 20.99A239.5 239.5 0 0 1 234.63 20.9L235.65 29.64A230.7 230.7 0 0 0 234.92 29.73Z" fill="#0808e8"/>
<path d="M235.35 20.82A239.5 239.5 0 0 1 237.31 20.61L238.23 29.36A230.7 230.7 0 0 0 236.34 29.57Z" fill="#808080"/>
<path d="M238.28 20.51A239.5 239.5 0 0 1 240 20.34L240.82 29.1A230.7 230.7 0 0 0 239.16 29.26Z" fill="#808080"/>
<path d="M241.09 20.24A239.5 239.5 0 0 1 253.95 19.45L254.26 28.24A230.7 230.7 0 0 0 241.87 29.01Z" fill="#0808e8"/>
<text x="316.01" y="17.71" transform="rotate(-77.44 316.01 17.71)" class="cl" text-anchor="start">1</text>
<text x="419" y="67.87" transform="rotate(-50.62 419 67.87)" class="cl" text-anchor="start">2</text>
<text x="483.56" y="149.02" transform="rotate(-26.39 483.56 149.02)" class="cl" text-anchor="start">3</text>
<text x="508.44" y="238.23" transform="rotate(-4.78 508.44 238.23)" class="cl" text-anchor="start">4</text>
<text x="499.76" y="326.77" transform="rotate(15.97 499.76 326.77)" class="cl" text-anchor="start">5</text>
<text x="462.85" y="402.98" transform="rotate(35.71 462.85 402.98)" class="cl" text-anchor="start">6</text>
<text x="406.24" y="459.52" transform="rotate(54.35 406.24 459.52)" class="cl" text-anchor="start">7</text>
<text x="339.65" y="493.38" transform="rotate(71.75 339.65 493.38)" class="cl" text-anchor="start">8</text>
<text x="269.88" y="505.68" transform="rotate(88.24 269.88 505.68)" class="cl" text-anchor="start">9</text>
<text x="201.76" y="498.27" transform="rotate(-75.81 201.76 498.27)" class="cl" text-anchor="end">10</text>
<text x="139.47" y="473.09" transform="rotate(-60.18 139.47 473.09)" class="cl" text-anchor="end">11</text>
<text x="86.52" y="432.33" transform="rotate(-44.63 86.52 432.33)" class="cl" text-anchor="end">12</text>
<text x="48.57" y="382.6" transform="rotate(-30.08 48.57 382.6)" class="cl" text-anchor="end">13</text>
<text x="25.93" y="330.47" transform="rotate(-16.87 25.93 330.47)" class="cl" text-anchor="end">14</text>
<text x="15.99" y="277.28" transform="rotate(-4.29 15.99 277.28)" class="cl" text-anchor="end">15</text>
<text x="17.37" y="226.87" transform="rotate(7.43 17.37 226.87)" class="cl" text-anchor="end">16</text>
<text x="27.49" y="182.17" transform="rotate(18.07 27.49 182.17)" class="cl" text-anchor="end">17</text>
<text x="44.41" y="142.46" transform="rotate(28.1 44.41 142.46)" class="cl" text-anchor="end">18</text>
<text x="65.07" y="110.1" transform="rotate(37.01 65.07 110.1)" class="cl" text-anchor="end">19</text>
<text x="88.16" y="83.63" transform="rotate(45.17 88.16 83.63)" class="cl" text-anchor="end">20</text>
<text x="112.86" y="62.13" transform="rotate(52.77 112.86 62.13)" class="cl" text-anchor="end">21</text>
<text x="137.99" y="45.36" transform="rotate(59.78 137.99 45.36)" class="cl" text-anchor="end">22</text>
<text x="186.76" y="23.64" transform="rotate(72.19 186.76 23.64)" class="cl" text-anchor="end">X</text>
<text x="240.81" y="12.74" transform="rotate(85.01 240.81 12.74)" class="cl" text-anchor="end">Y</text>
<g stroke-width="0.9" stroke-linecap="butt"><line x1="270.55" y1="151.92" x2="271.47" y2="140.03" stroke="#4f709a"/><line x1="267.12" y1="196.39" x2="268.04" y2="184.42" stroke="#4f709a"/><line x1="289.44" y1="155.09" x2="291.63" y2="146.73" stroke="#b44856"/><line x1="278.15" y1="198.24" x2="280.12" y2="190.69" stroke="#b44856"/><line x1="296.89" y1="157.34" x2="301" y2="145.28" stroke="#4f709a"/><line x1="282.5" y1="199.55" x2="285.92" y2="189.52" stroke="#4f709a"/><line x1="305.5" y1="160.69" x2="319.38" y2="129.18" stroke="#4f709a"/><line x1="287.53" y1="201.51" x2="300.51" y2="172.04" stroke="#4f709a"/><line x1="353.58" y1="202.58" x2="376.56" y2="188.43" stroke="#b44856"/><line x1="315.6" y1="225.97" x2="340.97" y2="210.34" stroke="#b44856"/><line x1="360.69" y1="216.24" x2="368.65" y2="212.8" stroke="#4f709a"/><line x1="319.76" y1="233.95" x2="328.2" y2="230.3" stroke="#4f709a"/><line x1="362.13" y1="219.74" x2="375.68" y2="214.44" stroke="#4f709a"/><line x1="320.6" y1="235.99" x2="335.59" y2="230.13" stroke="#4f709a"/><line x1="362.28" y1="220.13" x2="371.46" y2="216.58" stroke="#4f709a"/><line x1="320.69" y1="236.22" x2="331.32" y2="232.11" stroke="#4f709a"/><line x1="363.44" y1="223.27" x2="377.48" y2="218.34" stroke="#b44856"/><line x1="321.36" y1="238.05" x2="335.14" y2="233.21" stroke="#b44856"/><line x1="364.36" y1="226" x2="373.8" y2="222.97" stroke="#b44856"/><line x1="321.9" y1="239.65" x2="331.7" y2="236.5" stroke="#b44856"/><line x1="366.02" y1="285.91" x2="380.71" y2="289.74" stroke="#4f709a"/><line x1="322.87" y1="274.63" x2="334.77" y2="277.74" stroke="#4f709a"/><line x1="362.34" y1="297.31" x2="377.7" y2="303.22" stroke="#b44856"/><line x1="320.72" y1="281.29" x2="332.67" y2="285.89" stroke="#b44856"/><line x1="356.37" y1="310.2" x2="365.06" y2="314.95" stroke="#4f709a"/><line x1="317.23" y1="288.82" x2="327.24" y2="294.28" stroke="#4f709a"/><line x1="332.81" y1="339.55" x2="338.18" y2="345.69" stroke="#4f709a"/><line x1="303.48" y1="305.95" x2="309.72" y2="313.11" stroke="#4f709a"/><line x1="332.52" y1="339.8" x2="338.83" y2="347.08" stroke="#4f709a"/><line x1="303.3" y1="306.1" x2="308.15" y2="311.69" stroke="#4f709a"/><line x1="315.26" y1="352" x2="320.79" y2="361.74" stroke="#4f709a"/><line x1="293.23" y1="313.23" x2="300.59" y2="326.18" stroke="#4f709a"/><line x1="253.3" y1="365.62" x2="252.48" y2="375.34" stroke="#b44856"/><line x1="257.04" y1="321.18" x2="256.02" y2="333.34" stroke="#b44856"/><line x1="243.48" y1="364.34" x2="240.05" y2="383.59" stroke="#4f709a"/><line x1="251.31" y1="320.43" x2="247.56" y2="341.5" stroke="#4f709a"/><line x1="234.58" y1="362.35" x2="231.88" y2="372.47" stroke="#4f709a"/><line x1="246.11" y1="319.27" x2="243.58" y2="328.74" stroke="#4f709a"/><line x1="230.15" y1="361.06" x2="226.43" y2="372.88" stroke="#4f709a"/><line x1="243.52" y1="318.52" x2="239.26" y2="332.06" stroke="#4f709a"/><line x1="229.49" y1="360.86" x2="225.54" y2="373.15" stroke="#4f709a"/><line x1="243.14" y1="318.4" x2="238.98" y2="331.34" stroke="#4f709a"/><line x1="219.71" y1="357.18" x2="214.83" y2="368.44" stroke="#b44856"/><line x1="237.43" y1="316.25" x2="231.94" y2="328.91" stroke="#b44856"/><line x1="217.23" y1="356.07" x2="210.74" y2="370.07" stroke="#4f709a"/><line x1="235.98" y1="315.6" x2="230.18" y2="328.12" stroke="#4f709a"/><line x1="209.57" y1="352.13" x2="203.59" y2="362.71" stroke="#4f709a"/><line x1="231.51" y1="313.3" x2="225.9" y2="323.23" stroke="#4f709a"/><line x1="209.48" y1="352.09" x2="203.7" y2="362.3" stroke="#b44856"/><line x1="231.46" y1="313.28" x2="225.2" y2="324.33" stroke="#b44856"/><line x1="199.33" y1="345.55" x2="193.09" y2="354.15" stroke="#4f709a"/><line x1="225.53" y1="309.46" x2="220.12" y2="316.91" stroke="#4f709a"/><line x1="194.5" y1="341.83" x2="177.16" y2="363.06" stroke="#4f709a"/><line x1="222.71" y1="307.29" x2="201.01" y2="333.85" stroke="#4f709a"/><line x1="193.66" y1="341.14" x2="186.86" y2="349.3" stroke="#b44856"/><line x1="222.22" y1="306.89" x2="215.88" y2="314.49" stroke="#b44856"/><line x1="188.89" y1="336.92" x2="179.38" y2="347.03" stroke="#4f709a"/><line x1="219.43" y1="304.42" x2="210.32" y2="314.11" stroke="#4f709a"/><line x1="171.7" y1="316.09" x2="147.73" y2="331.25" stroke="#4f709a"/><line x1="209.39" y1="292.26" x2="194.77" y2="301.5" stroke="#4f709a"/><line x1="158.89" y1="287.07" x2="145.63" y2="290.69" stroke="#b44856"/><line x1="201.92" y1="275.31" x2="188.89" y2="278.87" stroke="#b44856"/><line x1="158.48" y1="285.51" x2="147.91" y2="288.23" stroke="#4f709a"/><line x1="201.67" y1="274.4" x2="190.63" y2="277.24" stroke="#4f709a"/><line x1="155.48" y1="267.83" x2="146.88" y2="268.56" stroke="#4f709a"/><line x1="199.92" y1="264.08" x2="190.86" y2="264.84" stroke="#4f709a"/><line x1="155.1" y1="259.24" x2="143.31" y2="259.28" stroke="#4f709a"/><line x1="199.7" y1="259.05" x2="188.1" y2="259.1" stroke="#4f709a"/><line x1="158.5" y1="232.01" x2="146.84" y2="229.01" stroke="#4f709a"/><line x1="201.69" y1="243.16" x2="189.97" y2="240.14" stroke="#4f709a"/><line x1="160" y1="226.75" x2="146.75" y2="222.6" stroke="#b44856"/><line x1="202.56" y1="240.09" x2="188.82" y2="235.78" stroke="#b44856"/><line x1="160.5" y1="225.21" x2="146.45" y2="220.58" stroke="#4f709a"/><line x1="202.85" y1="239.19" x2="188.32" y2="234.39" stroke="#4f709a"/><line x1="160.67" y1="224.7" x2="148.34" y2="220.56" stroke="#4f709a"/><line x1="202.95" y1="238.88" x2="187.78" y2="233.79" stroke="#4f709a"/><line x1="173.84" y1="198.24" x2="165.72" y2="192.68" stroke="#4f709a"/><line x1="210.65" y1="223.44" x2="201.24" y2="217" stroke="#4f709a"/><line x1="174.28" y1="197.6" x2="164.74" y2="190.97" stroke="#4f709a"/><line x1="210.9" y1="223.06" x2="200.39" y2="215.76" stroke="#4f709a"/><line x1="178.57" y1="191.86" x2="171.66" y2="186.34" stroke="#4f709a"/><line x1="213.4" y1="219.71" x2="205.28" y2="213.22" stroke="#4f709a"/><line x1="179.74" y1="190.43" x2="172.18" y2="184.16" stroke="#4f709a"/><line x1="214.09" y1="218.87" x2="203" y2="209.69" stroke="#4f709a"/><line x1="187.32" y1="182.18" x2="179.47" y2="174.17" stroke="#b44856"/><line x1="218.52" y1="214.06" x2="212.36" y2="207.77" stroke="#b44856"/><line x1="190.29" y1="179.39" x2="183.16" y2="171.53" stroke="#4f709a"/><line x1="220.25" y1="212.43" x2="213.6" y2="205.09" stroke="#4f709a"/><line x1="199.3" y1="172.07" x2="192.94" y2="163.32" stroke="#4f709a"/><line x1="225.51" y1="208.15" x2="218.87" y2="199.01" stroke="#4f709a"/><line x1="207.38" y1="166.74" x2="202.84" y2="159.12" stroke="#4f709a"/><line x1="230.23" y1="205.04" x2="224.39" y2="195.25" stroke="#4f709a"/><line x1="208.54" y1="166.05" x2="202.3" y2="155.29" stroke="#4f709a"/><line x1="230.91" y1="204.64" x2="224.19" y2="193.05" stroke="#4f709a"/><line x1="210.15" y1="165.14" x2="199.77" y2="146.49" stroke="#4f709a"/><line x1="231.85" y1="204.11" x2="222.95" y2="188.12" stroke="#4f709a"/><line x1="224.34" y1="158.55" x2="220.45" y2="148.28" stroke="#4f709a"/><line x1="240.13" y1="200.26" x2="236.55" y2="190.81" stroke="#4f709a"/><line x1="224.35" y1="158.54" x2="220.69" y2="148.87" stroke="#4f709a"/><line x1="240.14" y1="200.25" x2="237.17" y2="192.4" stroke="#4f709a"/><line x1="243.4" y1="153.28" x2="238.78" y2="127.46" stroke="#4f709a"/><line x1="251.26" y1="197.18" x2="247.84" y2="178.08" stroke="#4f709a"/></g>
<g fill="none" stroke-width="0.8" stroke-linejoin="round"><polyline points="273.85,109.24 274.65,98.78 287.76,91.22 289.27,81.34" stroke="#4f709a"/><polyline points="300.28,113.69 302.93,103.53 293.25,92.15 295.07,82.32" stroke="#b44856"/><polyline points="310.71,116.83 314.09,106.89 299.16,93.36 301.33,83.6" stroke="#4f709a"/><polyline points="322.75,121.52 326.99,111.91 305.4,94.87 307.94,85.2" stroke="#4f709a"/><polyline points="390.02,180.14 398.96,174.63 405.25,167.73 413.69,162.35" stroke="#b44856"/><polyline points="399.97,199.25 409.61,195.09 408.35,172.77 416.96,167.7" stroke="#4f709a"/><polyline points="401.99,204.15 411.77,200.33 411.26,177.92 420.05,173.15" stroke="#4f709a"/><polyline points="402.2,204.69 411.99,200.9 413.86,182.9 422.8,178.43" stroke="#4f709a"/><polyline points="403.82,209.09 413.73,205.61 416.29,187.97 425.38,183.79" stroke="#b44856"/><polyline points="405.11,212.91 415.1,209.7 419.01,194.21 428.26,190.4" stroke="#b44856"/><polyline points="407.43,296.73 417.58,299.38 426.77,299.81 436.47,302.22" stroke="#4f709a"/><polyline points="402.29,312.69 412.08,316.46 425.32,305.24 434.93,307.98" stroke="#b44856"/><polyline points="393.93,330.73 403.14,335.76 401.99,354.81 410.23,360.47" stroke="#4f709a"/><polyline points="360.96,371.78 367.87,379.69 368.28,391.08 374.53,398.89" stroke="#4f709a"/><polyline points="360.55,372.14 367.43,380.07 363.6,394.7 369.57,402.72" stroke="#4f709a"/><polyline points="336.4,389.22 341.59,398.35 358.79,398.15 364.49,406.37" stroke="#4f709a"/><polyline points="249.7,408.27 248.82,418.73 271.02,428.08 271.54,438.06" stroke="#b44856"/><polyline points="235.97,406.47 234.13,416.81 232.87,425.72 231.13,435.57" stroke="#4f709a"/><polyline points="223.52,403.7 220.8,413.84 227.35,424.66 225.29,434.44" stroke="#4f709a"/><polyline points="217.31,401.89 214.16,411.91 221.29,423.27 218.88,432.97" stroke="#4f709a"/><polyline points="216.39,401.6 213.18,411.6 215.01,421.57 212.22,431.17" stroke="#4f709a"/><polyline points="202.7,396.45 198.53,406.09 191.2,412.67 187.01,421.75" stroke="#b44856"/><polyline points="199.24,394.9 194.82,404.43 186.14,410.23 181.65,419.16" stroke="#4f709a"/><polyline points="188.52,389.4 183.35,398.54 181.16,407.62 176.37,416.4" stroke="#4f709a"/><polyline points="188.4,389.33 183.22,398.47 175.76,404.54 170.66,413.14" stroke="#b44856"/><polyline points="174.19,380.19 168.02,388.69 170.73,401.44 165.33,409.85" stroke="#4f709a"/><polyline points="167.42,374.98 160.78,383.12 148.01,383.97 141.26,391.35" stroke="#4f709a"/><polyline points="166.26,374.02 159.53,382.09 143.71,379.9 136.71,387.05" stroke="#b44856"/><polyline points="159.58,368.11 152.39,375.76 139.35,375.48 132.1,382.36" stroke="#4f709a"/><polyline points="135.52,338.97 126.65,344.58 117.16,346.35 108.6,351.52" stroke="#4f709a"/><polyline points="117.61,298.35 107.48,301.12 101.84,313.42 92.38,316.65" stroke="#b44856"/><polyline points="117.03,296.17 106.86,298.79 100.03,307.79 90.46,310.68" stroke="#4f709a"/><polyline points="112.83,271.44 102.37,272.33 93.76,276.81 83.82,277.87" stroke="#4f709a"/><polyline points="112.3,259.41 101.8,259.45 93.26,271.21 83.28,271.95" stroke="#4f709a"/><polyline points="117.06,221.32 106.89,218.7 97.91,217.51 88.21,215.07" stroke="#4f709a"/><polyline points="119.16,213.96 109.14,210.82 99.45,211.8 89.84,209.02" stroke="#b44856"/><polyline points="119.85,211.8 109.88,208.51 101.37,205.58 91.88,202.44" stroke="#4f709a"/><polyline points="120.09,211.08 110.14,207.74 103.33,199.99 93.95,196.53" stroke="#4f709a"/><polyline points="138.53,174.06 129.86,168.13 122.11,163.53 113.84,157.91" stroke="#4f709a"/><polyline points="139.14,173.17 130.52,167.18 124.48,160.13 116.35,154.31" stroke="#4f709a"/><polyline points="145.13,165.14 136.93,158.58 127.11,156.56 119.13,150.52" stroke="#4f709a"/><polyline points="146.77,163.13 138.69,156.43 130.02,152.82 122.21,146.57" stroke="#4f709a"/><polyline points="157.39,151.6 150.04,144.09 138.94,142.55 131.66,135.7" stroke="#b44856"/><polyline points="161.54,147.68 154.48,139.91 143.29,138.11 136.26,130.99" stroke="#4f709a"/><polyline points="174.14,137.44 167.97,128.95 158.18,125.05 152.04,117.16" stroke="#4f709a"/><polyline points="185.45,129.98 180.08,120.96 171.23,115.85 165.85,107.41" stroke="#4f709a"/><polyline points="187.08,129.02 181.81,119.94 175.25,113.36 170.12,104.78" stroke="#4f709a"/><polyline points="189.33,127.74 184.23,118.57 179.87,110.7 175,101.96" stroke="#4f709a"/><polyline points="209.18,118.52 205.46,108.7 202.39,100.24 198.85,90.89" stroke="#4f709a"/><polyline points="209.2,118.51 205.49,108.69 207.4,98.44 204.16,88.98" stroke="#4f709a"/><polyline points="235.85,111.15 234,100.81 213.31,96.53 210.42,86.96" stroke="#4f709a"/></g>
<g class="gl"><text x="290.17" y="75.41" transform="rotate(-81.36 290.17 75.41)" fill="#5a78a0" stroke="#5a78a0" text-anchor="start">MPL     (1999)</text><text x="296.17" y="76.42" transform="rotate(-79.48 296.17 76.42)" fill="#be4450" stroke="#be4450" text-anchor="start">RBM8A   (2011)</text><text x="302.64" y="77.74" transform="rotate(-77.44 302.64 77.74)" fill="#5a78a0" stroke="#5a78a0" text-anchor="start">PLA2G4A (2008)</text><text x="309.47" y="79.4" transform="rotate(-75.27 309.47 79.4)" fill="#5a78a0" stroke="#5a78a0" text-anchor="start">LYST    (1996)</text><text x="418.75" y="159.13" transform="rotate(-32.5 418.75 159.13)" fill="#be4450" stroke="#be4450" text-anchor="start">NBEAL2  (2011)</text><text x="422.13" y="164.65" transform="rotate(-30.5 422.13 164.65)" fill="#5a78a0" stroke="#5a78a0" text-anchor="start">GP9     (1993)</text><text x="425.32" y="170.29" transform="rotate(-28.5 425.32 170.29)" fill="#5a78a0" stroke="#5a78a0" text-anchor="start">HPS3    (2001)</text><text x="428.17" y="175.74" transform="rotate(-26.6 428.17 175.74)" fill="#5a78a0" stroke="#5a78a0" text-anchor="start">P2RY12  (2001)</text><text x="430.83" y="181.29" transform="rotate(-24.7 430.83 181.29)" fill="#be4450" stroke="#be4450" text-anchor="start">MECOM   (2015)</text><text x="433.8" y="188.11" transform="rotate(-22.4 433.8 188.11)" fill="#be4450" stroke="#be4450" text-anchor="start">THPO    (2013)</text><text x="442.29" y="303.68" transform="rotate(14 442.29 303.68)" fill="#5a78a0" stroke="#5a78a0" text-anchor="start">AP3B1   (1999)</text><text x="440.7" y="309.62" transform="rotate(15.9 440.7 309.62)" fill="#be4450" stroke="#be4450" text-anchor="start">DIAPH1  (2016)</text><text x="415.18" y="363.87" transform="rotate(34.5 415.18 363.87)" fill="#5a78a0" stroke="#5a78a0" text-anchor="start">DTNBP1  (2003)</text><text x="378.28" y="403.57" transform="rotate(51.3 378.28 403.57)" fill="#5a78a0" stroke="#5a78a0" text-anchor="start">CYCS    (2008)</text><text x="373.16" y="407.53" transform="rotate(53.3 373.16 407.53)" fill="#5a78a0" stroke="#5a78a0" text-anchor="start">HOXA11  (2000)</text><text x="367.9" y="411.31" transform="rotate(55.3 367.9 411.31)" fill="#5a78a0" stroke="#5a78a0" text-anchor="start">TBXAS1  (2008)</text><text x="271.85" y="444.05" transform="rotate(87.05 271.85 444.05)" fill="#be4450" stroke="#be4450" text-anchor="start">GFI1B   (2013)</text><text x="230.09" y="441.48" transform="rotate(-80 230.09 441.48)" fill="#5a78a0" stroke="#5a78a0" text-anchor="end">ANKRD26 (2011)</text><text x="224.05" y="440.31" transform="rotate(-78.1 224.05 440.31)" fill="#5a78a0" stroke="#5a78a0" text-anchor="end">PLAU    (2010)</text><text x="217.42" y="438.79" transform="rotate(-76 217.42 438.79)" fill="#5a78a0" stroke="#5a78a0" text-anchor="end">HPS1    (1996)</text><text x="210.55" y="436.93" transform="rotate(-73.8 210.55 436.93)" fill="#5a78a0" stroke="#5a78a0" text-anchor="end">HPS6    (2003)</text><text x="184.49" y="427.19" transform="rotate(-65.2 184.49 427.19)" fill="#be4450" stroke="#be4450" text-anchor="end">STIM1   (2014)</text><text x="178.95" y="424.52" transform="rotate(-63.3 178.95 424.52)" fill="#5a78a0" stroke="#5a78a0" text-anchor="end">HPS5    (2003)</text><text x="173.5" y="421.67" transform="rotate(-61.4 173.5 421.67)" fill="#5a78a0" stroke="#5a78a0" text-anchor="end">FERMT3  (2009)</text><text x="167.59" y="418.3" transform="rotate(-59.3 167.59 418.3)" fill="#be4450" stroke="#be4450" text-anchor="end">RASGRP2 (2014)</text><text x="162.09" y="414.9" transform="rotate(-57.3 162.09 414.9)" fill="#5a78a0" stroke="#5a78a0" text-anchor="end">FLI1    (2009)</text><text x="137.22" y="395.78" transform="rotate(-47.6 137.22 395.78)" fill="#5a78a0" stroke="#5a78a0" text-anchor="end">VWF     (1991)</text><text x="132.51" y="391.33" transform="rotate(-45.6 132.51 391.33)" fill="#be4450" stroke="#be4450" text-anchor="end">ETV6    (2015)</text><text x="127.74" y="386.49" transform="rotate(-43.5 127.74 386.49)" fill="#5a78a0" stroke="#5a78a0" text-anchor="end">ANO6    (2010)</text><text x="103.46" y="354.62" transform="rotate(-31.1 103.46 354.62)" fill="#5a78a0" stroke="#5a78a0" text-anchor="end">NBEA    (2010)</text><text x="86.7" y="318.58" transform="rotate(-18.8 86.7 318.58)" fill="#be4450" stroke="#be4450" text-anchor="end">ACTN1   (2013)</text><text x="84.72" y="312.42" transform="rotate(-16.8 84.72 312.42)" fill="#5a78a0" stroke="#5a78a0" text-anchor="end">VIPAS39 (2010)</text><text x="77.85" y="278.51" transform="rotate(-6.1 77.85 278.51)" fill="#5a78a0" stroke="#5a78a0" text-anchor="end">BLOC1S6 (2011)</text><text x="77.3" y="272.39" transform="rotate(-4.2 77.3 272.39)" fill="#5a78a0" stroke="#5a78a0" text-anchor="end">VPS33B  (2004)</text><text x="82.39" y="213.61" transform="rotate(14.1 82.39 213.61)" fill="#5a78a0" stroke="#5a78a0" text-anchor="end">GP1BA   (1990)</text><text x="84.08" y="207.36" transform="rotate(16.1 84.08 207.36)" fill="#be4450" stroke="#be4450" text-anchor="end">SLFN14  (2015)</text><text x="86.18" y="200.55" transform="rotate(18.3 86.18 200.55)" fill="#5a78a0" stroke="#5a78a0" text-anchor="end">ITGA2B  (1991)</text><text x="88.32" y="194.44" transform="rotate(20.3 88.32 194.44)" fill="#5a78a0" stroke="#5a78a0" text-anchor="end">ITGB3   (1991)</text><text x="108.88" y="154.53" transform="rotate(34.2 108.88 154.53)" fill="#5a78a0" stroke="#5a78a0" text-anchor="end">TBXA2R  (1994)</text><text x="111.47" y="150.82" transform="rotate(35.6 111.47 150.82)" fill="#5a78a0" stroke="#5a78a0" text-anchor="end">STXBP2  (2009)</text><text x="114.35" y="146.9" transform="rotate(37.1 114.35 146.9)" fill="#5a78a0" stroke="#5a78a0" text-anchor="end">BLOC1S3 (2006)</text><text x="117.53" y="142.82" transform="rotate(38.7 117.53 142.82)" fill="#5a78a0" stroke="#5a78a0" text-anchor="end">GP6     (2009)</text><text x="127.3" y="131.58" transform="rotate(43.3 127.3 131.58)" fill="#be4450" stroke="#be4450" text-anchor="end">SRC     (2016)</text><text x="132.05" y="126.72" transform="rotate(45.4 132.05 126.72)" fill="#5a78a0" stroke="#5a78a0" text-anchor="end">TUBB1   (2009)</text><text x="148.35" y="112.42" transform="rotate(52.1 148.35 112.42)" fill="#5a78a0" stroke="#5a78a0" text-anchor="end">RUNX1   (1999)</text><text x="162.63" y="102.35" transform="rotate(57.5 162.63 102.35)" fill="#5a78a0" stroke="#5a78a0" text-anchor="end">GP1BB   (1998)</text><text x="167.04" y="99.63" transform="rotate(59.1 167.04 99.63)" fill="#5a78a0" stroke="#5a78a0" text-anchor="end">HPS4    (2002)</text><text x="172.08" y="96.72" transform="rotate(60.9 172.08 96.72)" fill="#5a78a0" stroke="#5a78a0" text-anchor="end">MYH9    (2000)</text><text x="196.73" y="85.28" transform="rotate(69.3 196.73 85.28)" fill="#5a78a0" stroke="#5a78a0" text-anchor="end">WAS     (1994)</text><text x="202.21" y="83.3" transform="rotate(71.1 202.21 83.3)" fill="#5a78a0" stroke="#5a78a0" text-anchor="end">GATA1   (2000)</text><text x="208.68" y="81.22" transform="rotate(73.2 208.68 81.22)" fill="#5a78a0" stroke="#5a78a0" text-anchor="end">FLNA    (2011)</text></g>
<g stroke="#2c2cb8" stroke-width="0.55" fill="#2c2cb8"><line x1="260.3" y1="116.9" x2="260.3" y2="143.2"/><line x1="258.8" y1="116.9" x2="260.3" y2="116.9"/><text x="258.3" y="116.9" class="at">11408</text><line x1="258.8" y1="130.05" x2="260.3" y2="130.05"/><text x="258.3" y="130.05" class="at">5862</text><line x1="258.8" y1="143.2" x2="260.3" y2="143.2"/><text x="258.3" y="143.2" class="at">316</text><text x="263.5" y="130.05" transform="rotate(-90 263.5 130.05)" class="att" textLength="25" lengthAdjust="spacingAndGlyphs">CDS length</text><line x1="260.3" y1="160.8" x2="260.3" y2="187"/><line x1="258.8" y1="160.8" x2="260.3" y2="160.8"/><text x="258.3" y="160.8" class="at">251</text><line x1="258.8" y1="173.9" x2="260.3" y2="173.9"/><text x="258.3" y="173.9" class="at">127.5</text><line x1="258.8" y1="187" x2="260.3" y2="187"/><text x="258.3" y="187" class="at">4</text><text x="263.5" y="173.9" transform="rotate(-90 263.5 173.9)" class="att" textLength="35.5" lengthAdjust="spacingAndGlyphs">No. of variants</text></g>
</g>
<rect x="0.5" y="0.5" width="519" height="517" fill="none" stroke="#111" stroke-width="1"/>
</svg>
</body></html>
